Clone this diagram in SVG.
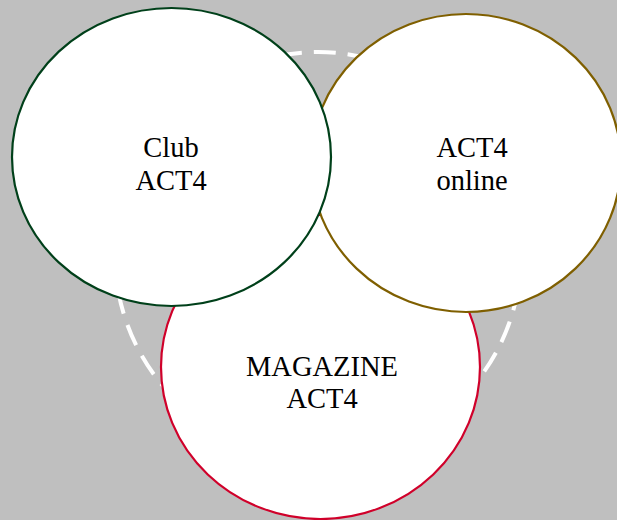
<svg xmlns="http://www.w3.org/2000/svg" width="617" height="520" viewBox="0 0 617 520">
<style>
.node{fill:#ffffff;stroke-width:2.2}
.lbl{font-family:"Liberation Serif","Times New Roman",serif;font-size:28.5px;fill:#000;text-anchor:middle}
</style>
<rect x="0" y="0" width="617" height="520" fill="#bfbfbf"/>
<g id="connectors">
<circle cx="318" cy="255" r="203" fill="none" stroke="#ffffff" stroke-width="4" stroke-dasharray="22 12"/>
</g>
<g id="magazine">
<ellipse class="node" cx="320.5" cy="367" rx="159.5" ry="152" stroke="#d0002a"/>
<text class="lbl" x="322" y="376">MAGAZINE</text>
<text class="lbl" x="322" y="408">ACT4</text>
</g>
<g id="online">
<ellipse class="node" cx="466" cy="163" rx="155" ry="149" stroke="#7f5f00"/>
<text class="lbl" x="472" y="157">ACT4</text>
<text class="lbl" x="472" y="190">online</text>
</g>
<g id="club">
<ellipse class="node" cx="171.5" cy="157" rx="159.5" ry="149" stroke="#00401a"/>
<text class="lbl" x="171" y="157">Club</text>
<text class="lbl" x="171" y="190">ACT4</text>
</g>
</svg>
